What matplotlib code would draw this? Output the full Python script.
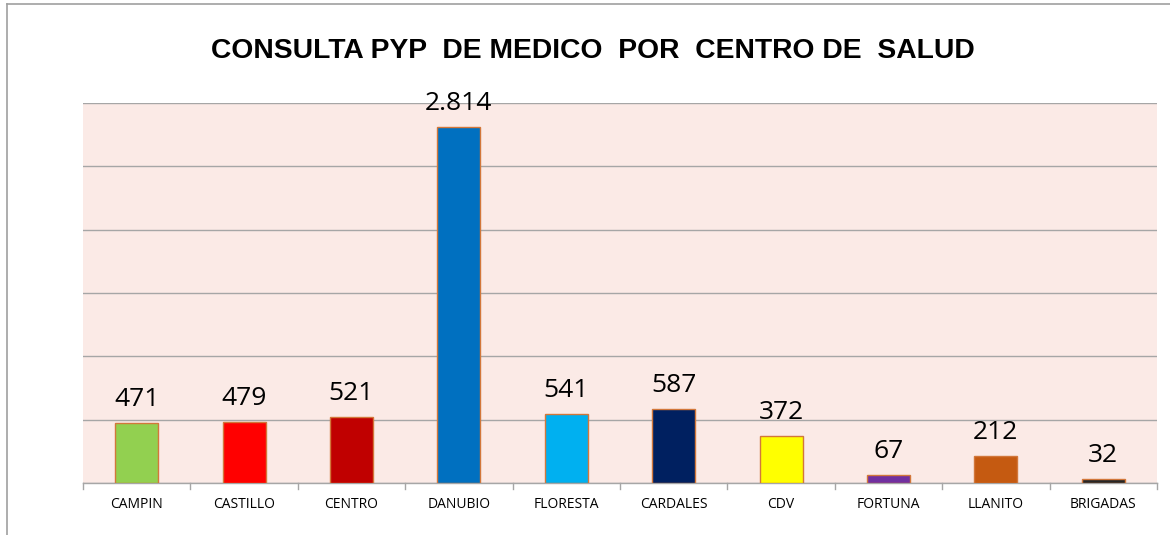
import matplotlib
matplotlib.use("Agg")
import matplotlib.pyplot as plt
from matplotlib.lines import Line2D

categories = ["CAMPIN", "CASTILLO", "CENTRO", "DANUBIO", "FLORESTA",
              "CARDALES", "CDV", "FORTUNA", "LLANITO", "BRIGADAS"]
values = [471, 479, 521, 2814, 541, 587, 372, 67, 212, 32]
colors = ["#92D050", "#FF0000", "#C00000", "#0070C0", "#00B0F0",
          "#002060", "#FFFF00", "#7030A0", "#C55A11", "#262626"]
title = "CONSULTA PYP  DE MEDICO  POR  CENTRO DE  SALUD"

W, H = 1170, 535
fig = plt.figure(figsize=(W / 100, H / 100), dpi=100)
fig.patch.set_facecolor("white")

ax = fig.add_axes([83 / W, (H - 483) / H, (1157 - 83) / W, (483 - 103) / H])
ax.set_facecolor("#FBEAE6")

x = list(range(len(categories)))
ax.bar(x, values, width=0.4, color=colors, edgecolor="#D2773A", linewidth=1.0, zorder=3)

ax.set_xlim(-0.5, len(categories) - 0.5)
ax.set_ylim(0, 3000)
ax.set_yticks(range(0, 3001, 500))
ax.yaxis.grid(True, color="#A6A6A6", linewidth=1.0, zorder=1)
ax.tick_params(axis="y", left=False, labelleft=False)

ax.set_xticks(x)
ax.set_xticklabels(categories, fontfamily="Open Sans", fontsize=10, color="#000000")
ax.tick_params(axis="x", length=0, pad=10)
# separators between categories
for b in [i - 0.5 for i in range(len(categories) + 1)]:
    ax.plot([b, b], [0, -45], color="#A6A6A6", linewidth=1.0, clip_on=False, zorder=2)

for side in ["left", "right", "top"]:
    ax.spines[side].set_visible(False)
ax.spines["bottom"].set_color("#A6A6A6")
ax.spines["bottom"].set_linewidth(1.0)

for xi, v in zip(x, values):
    lbl = f"{v:,}".replace(",", ".")
    ax.annotate(lbl, (xi, v), xytext=(0, 17), textcoords="offset pixels",
                ha="center", va="baseline", fontsize=19, fontfamily="Open Sans",
                color="#000000", zorder=4)

fig.text(593 / W, 1 - 51 / H, title, ha="center", va="center",
         fontsize=20.3, fontweight="bold", fontfamily="Liberation Sans", color="#000000")

# outer frame lines
fig.add_artist(Line2D([7 / W, 7 / W], [0, 1 - 4 / H], transform=fig.transFigure,
                      color="#A0A0A0", linewidth=1.2))
fig.add_artist(Line2D([7 / W, 1], [1 - 4 / H, 1 - 4 / H], transform=fig.transFigure,
                      color="#A0A0A0", linewidth=1.2))

fig.savefig("out.png", dpi=100)
